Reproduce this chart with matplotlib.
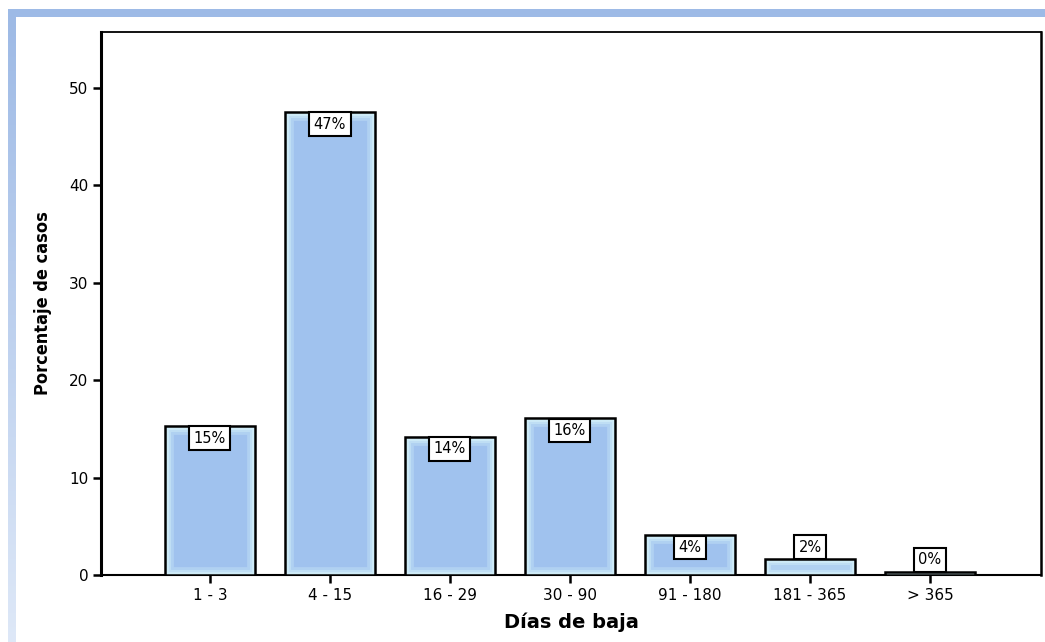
import numpy as np
import matplotlib
matplotlib.use("Agg")
import matplotlib.pyplot as plt
from matplotlib.patches import Rectangle

categories = ["1 - 3", "4 - 15", "16 - 29", "30 - 90", "91 - 180", "181 - 365", "> 365"]
percentages = [15.3, 47.5, 14.2, 16.1, 4.1, 1.6, 0.3]
value_labels = ["15%", "47%", "14%", "16%", "4%", "2%", "0%"]
y_ticks = [0, 10, 20, 30, 40, 50]

fig = plt.figure(figsize=(10.45, 6.42), dpi=100)
fig.patch.set_facecolor("white")

# decorative frame: solid band on top, fading band on the left
fig.patches.append(Rectangle((8 / 1045, 1 - 17 / 642), 1 - 8 / 1045, 8 / 642,
                             transform=fig.transFigure, facecolor="#9DBAE6",
                             edgecolor="none", zorder=0))
grad_ax = fig.add_axes([8 / 1045, 0, 8 / 1045, 1 - 17 / 642])
grad = np.linspace(0, 1, 256).reshape(-1, 1)
top_c = np.array([0.62, 0.73, 0.90])
bot_c = np.array([0.87, 0.91, 0.97])
img = top_c[None, None, :] * (1 - grad[..., None]) + bot_c[None, None, :] * grad[..., None]
grad_ax.imshow(img, aspect="auto", extent=[0, 1, 0, 1], origin="upper")
grad_ax.set_axis_off()

ax = fig.add_axes([101 / 1045, 1 - 575 / 642, 940 / 1045, 543 / 642])
x = np.arange(len(categories))
width = 0.75

bars = ax.bar(x, percentages, width=width, color="#A0C2EE", edgecolor="none", zorder=2)
for b in bars:
    # soft inner glow along the bar edges
    for lw, alpha in [(12, 0.3), (8, 0.4), (5, 0.55), (2.5, 0.8)]:
        glow = Rectangle(b.get_xy(), b.get_width(), b.get_height(), facecolor="none",
                         edgecolor="#D8F4FA", linewidth=lw, alpha=alpha, zorder=3)
        ax.add_patch(glow)
        glow.set_clip_path(b)
    ax.add_patch(Rectangle(b.get_xy(), b.get_width(), b.get_height(), facecolor="none",
                           edgecolor="black", linewidth=1.8, zorder=4))

for xi, val, lab in zip(x, percentages, value_labels):
    inside = val > 3
    ax.annotate(lab, (xi, val), xytext=(0, -3.5 if inside else 3.5), textcoords="offset points",
                ha="center", va="top" if inside else "bottom", fontsize=10.5, zorder=6,
                bbox=dict(boxstyle="square,pad=0.3", facecolor="white",
                          edgecolor="black", linewidth=1.5))

ax.set_xlim(-0.908, 6.925)
ax.set_ylim(0, 55.7)
ax.set_xticks(x)
ax.set_xticklabels(categories, fontsize=11)
ax.set_yticks(y_ticks)
ax.set_yticklabels([str(t) for t in y_ticks], fontsize=11)
ax.tick_params(axis="both", direction="out", length=6, width=1.8, pad=3)

ax.spines["left"].set_linewidth(2.2)
ax.spines["bottom"].set_linewidth(1.5)
ax.spines["top"].set_linewidth(1.3)
ax.spines["right"].set_linewidth(1.8)

ax.set_ylabel("Porcentaje de casos", fontsize=13, fontweight="bold", fontstretch="condensed",
              family=["Liberation Sans Narrow", "DejaVu Sans"], labelpad=12)
ax.set_xlabel("Días de baja", fontsize=14, fontweight="bold", labelpad=7)

fig.savefig("out.png", dpi=100)
